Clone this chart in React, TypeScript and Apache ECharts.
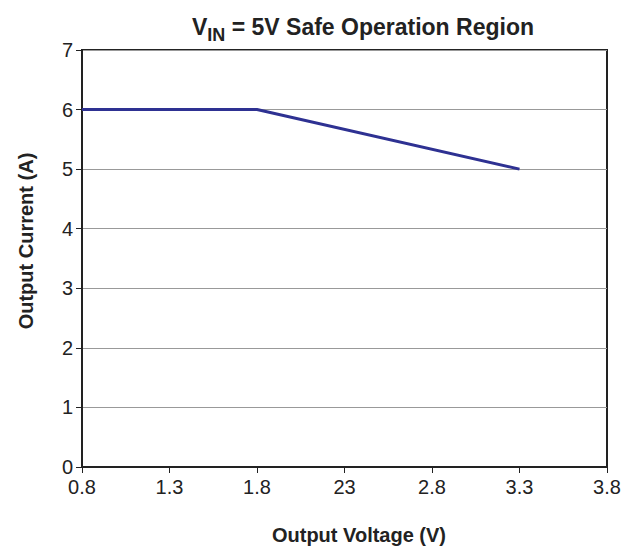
import React, { useEffect, useRef } from "react";
import * as echarts from "echarts";

const xTickLabels = ["0.8", "1.3", "1.8", "23", "2.8", "3.3", "3.8"];
const voltage = [0.8, 1.8, 3.3];
const current = [6, 6, 5];
const titleMain = "V";
const titleSub = "IN";
const titleRest = " = 5V Safe Operation Region";
const xName = "Output Voltage (V)";
const yName = "Output Current (A)";

export default function App() {
  const ref = useRef<HTMLDivElement>(null);
  useEffect(() => {
    if (!ref.current) return;
    document.body.style.overflow = "hidden";
    document.documentElement.style.overflow = "hidden";
    const chart = echarts.init(ref.current, null, { renderer: "svg" });
    const font = "Arial, 'Liberation Sans', Helvetica, sans-serif";
    chart.setOption({
      animation: false,
      backgroundColor: "#fff",
      textStyle: { fontFamily: font },
      title: {
        text: `{a|${titleMain}}{b|${titleSub}}{a|${titleRest}}`,
        left: 358,
        top: 7,
        textAlign: "center",
        textStyle: {
          rich: {
            a: { fontFamily: font, fontWeight: "bold", fontSize: 23, color: "#222", verticalAlign: "bottom", lineHeight: 26 },
            b: { fontFamily: font, fontWeight: "bold", fontSize: 18, color: "#222", verticalAlign: "bottom", lineHeight: 20, padding: [0, 0, -6, 0] },
          },
        },
      },
      graphic: [
        {
          type: "text",
          x: 359,
          y: 535,
          style: {
            text: xName,
            fontFamily: font,
            fontWeight: "bold",
            fontSize: 20,
            fill: "#222",
            align: "center",
            verticalAlign: "middle",
          },
        },
        {
          type: "text",
          x: 26,
          y: 241,
          rotation: Math.PI / 2,
          style: {
            text: yName,
            fontFamily: font,
            fontWeight: "bold",
            fontSize: 20,
            fill: "#222",
            align: "center",
            verticalAlign: "middle",
          },
        },
      ],
      grid: {
        left: 82,
        right: 27,
        top: 50,
        bottom: 81,
        show: true,
        borderColor: "#222",
        borderWidth: 2,
        containLabel: false,
      },
      xAxis: {
        type: "value",
        min: 0.8,
        max: 3.8,
        interval: 0.5,
        axisLine: { show: true, onZero: false, lineStyle: { color: "#222", width: 2 } },
        axisTick: { show: true, length: 6, inside: false, lineStyle: { color: "#222", width: 1 } },
        axisLabel: {
          fontFamily: font,
          fontSize: 20,
          color: "#222",
          margin: 10,
          formatter: (v: number) => {
            const i = Math.round((v - 0.8) / 0.5);
            return xTickLabels[i] ?? "";
          },
        },
        splitLine: { show: false },
      },
      yAxis: {
        type: "value",
        min: 0,
        max: 7,
        interval: 1,
        axisLine: { show: true, lineStyle: { color: "#222", width: 2 } },
        axisTick: { show: true, length: 6, inside: false, lineStyle: { color: "#222", width: 1 } },
        axisLabel: { fontFamily: font, fontSize: 20, color: "#222", margin: 9 },
        splitLine: { show: true, lineStyle: { color: "#999", width: 1 } },
      },
      series: [
        {
          type: "line",
          data: voltage.map((v, i) => [v, current[i]]),
          symbol: "none",
          lineStyle: { color: "#2e3192", width: 3 },
          z: 3,
        },
      ],
    });
    return () => chart.dispose();
  }, []);
  return <div ref={ref} style={{ position: "absolute", left: 0, top: 0, width: 634, height: 548 }} />;
}
